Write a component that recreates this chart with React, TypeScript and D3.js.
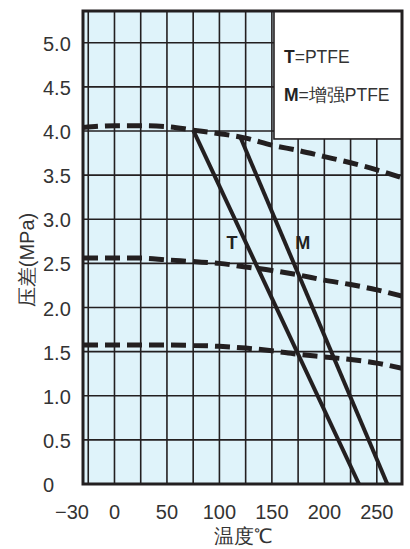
import * as d3 from 'd3';

const TEMPS = [-30, 0, 25, 50, 75, 100, 125, 150, 175, 200, 225, 250, 274];
const CURVE_40 = [4.04, 4.06, 4.06, 4.05, 4.01, 3.97, 3.92, 3.84, 3.78, 3.71, 3.64, 3.56, 3.47];
const CURVE_25 = [2.56, 2.56, 2.56, 2.54, 2.52, 2.5, 2.46, 2.42, 2.37, 2.31, 2.26, 2.2, 2.13];
const CURVE_15 = [1.575, 1.575, 1.575, 1.575, 1.57, 1.56, 1.54, 1.51, 1.47, 1.44, 1.41, 1.37, 1.31];

// straight limits for the two seal materials: [temp, pressure]
const LINE_T: [number, number][] = [[75, 4.01], [233, 0]];
const LINE_M: [number, number][] = [[120, 3.93], [260, 0]];

const X_GRID = [-25, 0, 25, 50, 75, 100, 125, 150, 175, 200, 225, 250];
const X_LABELS = [-30, 0, 50, 100, 150, 200, 250];
const Y_GRID = [0.5, 1, 1.5, 2, 2.5, 3, 3.5, 4, 4.5, 5];
const Y_LABELS = [0, 0.5, 1, 1.5, 2, 2.5, 3, 3.5, 4, 4.5, 5];

const W = 410;
const H = 549;
const INK = '#231f20';
const TXT = '#333333';
const FONT = "'Liberation Sans', Arial, sans-serif";

export default function App() {
  const x = d3.scaleLinear().domain([-30, 274]).range([83, 402]);
  const y = d3.scaleLinear().domain([0, 5.36]).range([484, 11]);

  const curve = d3
    .line<[number, number]>()
    .x((d) => x(d[0]))
    .y((d) => y(d[1]))
    .curve(d3.curveMonotoneX);
  const straight = d3
    .line<[number, number]>()
    .x((d) => x(d[0]))
    .y((d) => y(d[1]));

  const curves = [CURVE_40, CURVE_25, CURVE_15].map((vals) =>
    TEMPS.map((t, i) => [t, vals[i]] as [number, number])
  );

  const [x0, x1] = x.range();
  const [yb, yt] = y.range();

  return (
    <svg
      width={W}
      height={H}
      style={{ position: 'absolute', left: 0, top: 0, background: '#fff' }}
      fontFamily={FONT}
    >
      <defs>
        <clipPath id="plot">
          <rect x={x0} y={yt} width={x1 - x0} height={yb - yt} />
        </clipPath>
      </defs>
      <rect x={x0} y={yt} width={x1 - x0} height={yb - yt} fill="#dff3fa" />

      {X_GRID.map((t) => (
        <line key={'vx' + t} x1={x(t)} x2={x(t)} y1={yt} y2={yb} stroke={INK} strokeWidth={1.6} />
      ))}
      {Y_GRID.map((v) => (
        <line key={'hy' + v} x1={x0} x2={x1} y1={y(v)} y2={y(v)} stroke={INK} strokeWidth={1.6} />
      ))}

      {/* legend box */}
      <rect
        x={x(152)}
        y={yt}
        width={x1 - x(152)}
        height={y(3.91) - yt}
        fill="#fff"
        stroke={INK}
        strokeWidth={1.6}
      />
      <text x={284} y={57} fontSize={17.5} fill={TXT} dominantBaseline="central">
        <tspan fontWeight="bold" fill="#222">T</tspan>=PTFE
      </text>
      <text x={284} y={95} fontSize={17.5} fill={TXT} dominantBaseline="central">
        <tspan fontWeight="bold" fill="#222">M</tspan>=增强PTFE
      </text>

      <g clipPath="url(#plot)">
        {curves.map((c, i) => (
          <path
            key={'c' + i}
            d={curve(c) || ''}
            fill="none"
            stroke={INK}
            strokeWidth={5}
            strokeDasharray="15,7"
          />
        ))}
        <path d={straight(LINE_T) || ''} fill="none" stroke={INK} strokeWidth={4} />
        <path d={straight(LINE_M) || ''} fill="none" stroke={INK} strokeWidth={4} />
      </g>

      <text x={x(112)} y={y(2.73)} fontSize={18} fontWeight="bold" fill="#222" textAnchor="middle" dominantBaseline="central">
        T
      </text>
      <text x={x(179.5)} y={y(2.73)} fontSize={18} fontWeight="bold" fill="#222" textAnchor="middle" dominantBaseline="central">
        M
      </text>

      {/* frame */}
      <rect x={x0} y={yt} width={x1 - x0} height={yb - yt} fill="none" stroke={INK} strokeWidth={3} />

      {Y_LABELS.map((v) => (
        <text key={'yl' + v} x={43} y={y(v) + 1} fontSize={20} fill={TXT} dominantBaseline="central">
          {v === 0 ? '0' : v.toFixed(1)}
        </text>
      ))}
      {X_LABELS.map((t) => (
        <text
          key={'xl' + t}
          x={t === -30 ? x(t) + 6 : x(t)}
          y={512}
          fontSize={20}
          fill={TXT}
          textAnchor={t === -30 ? 'end' : 'middle'}
          dominantBaseline="central"
        >
          {t < 0 ? '\u2212' + Math.abs(t) : String(t)}
        </text>
      ))}

      <text x={(x0 + x1) / 2} y={536} fontSize={20} fill={TXT} textAnchor="middle" dominantBaseline="central">
        温度℃
      </text>
      <text
        transform={`translate(27,260) rotate(-90)`}
        fontSize={20}
        fill={TXT}
        textAnchor="middle"
        dominantBaseline="central"
      >
        压差(MPa)
      </text>
    </svg>
  );
}
